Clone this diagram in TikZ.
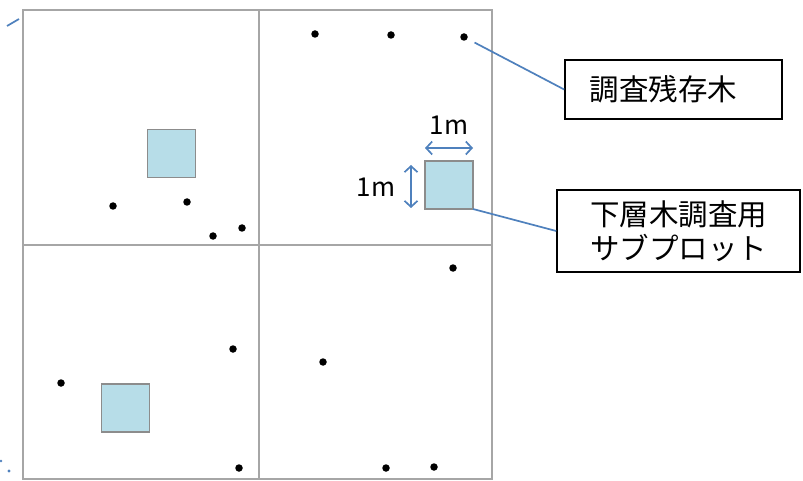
\documentclass[tikz,border=0pt]{standalone}
\usepackage{fontspec}
\setmainfont{Noto Sans CJK JP}
\usetikzlibrary{arrows.meta}
\definecolor{plotfill}{HTML}{B7DDE8}
\definecolor{plotedge}{HTML}{8C8C8C}
\definecolor{gridgray}{HTML}{A6A6A6}
\definecolor{linkblue}{HTML}{4F81BD}
\begin{document}
\begin{tikzpicture}[x=1pt,y=-1pt,
  grid/.style={draw=gridgray, line width=1.9pt},
  plotsq/.style={draw=plotedge, fill=plotfill, line width=1.4pt, minimum width=48pt, minimum height=48pt, inner sep=0pt, outer sep=0pt},
  tree/.style={circle, fill=black, minimum size=7.5pt, inner sep=0pt},
  labelbox/.style={draw=black, line width=1.6pt, font=\fontsize{29.5}{34}\selectfont, align=center, inner sep=0pt},
  link/.style={draw=linkblue, line width=1.7pt},
  dimarrow/.style={link, {Straight Barb[length=6pt,width=13pt]}-{Straight Barb[length=6pt,width=13pt]}},
  dimtext/.style={font=\fontsize{26}{28}\selectfont\addfontfeature{LetterSpace=5}, inner sep=0pt}
]
\useasboundingbox (0,0) rectangle (803,481);
\fill[white] (0,0) rectangle (803,481);

% plot frame and quadrants
\draw[grid] (23,10) rectangle (492,479);
\draw[grid] (259,10) -- (259,479);
\draw[grid] (23,245) -- (492,245);

% subplots
\node[plotsq] (sqA) at (171.5,153.5) {};
\node[plotsq] (sqB) at (125.5,408) {};
\node[plotsq] (sqC) at (449,185) {};

% trees
\node[tree] (t1) at (315,34) {};
\node[tree] (t2) at (391,35) {};
\node[tree] (t3) at (464,37) {};
\node[tree] (t4) at (113,206) {};
\node[tree] (t5) at (187,202) {};
\node[tree] (t6) at (213,236) {};
\node[tree] (t7) at (242,228) {};
\node[tree] (t8) at (61,383) {};
\node[tree] (t9) at (233,349) {};
\node[tree] (t10) at (239,468) {};
\node[tree] (t11) at (453,268) {};
\node[tree] (t12) at (323,362) {};
\node[tree] (t13) at (386,468) {};
\node[tree] (t14) at (434,467) {};

% dimension arrows
\draw[dimarrow] ([yshift=13pt]sqC.north west) -- ([yshift=13pt]sqC.north east);
\draw[dimarrow] ([xshift=-14pt,yshift=-4pt]sqC.north west) -- ([xshift=-14pt,yshift=1pt]sqC.south west);
\node[dimtext] (w1m) at (449,125) {1m};
\node[dimtext] (h1m) at (376,187) {1m};

% label boxes
\node[labelbox, minimum width=217pt, minimum height=59pt] (box1) at (673.5,89.5) {調査残存木\hspace*{20pt}};
\node[labelbox, minimum width=243pt, minimum height=82pt] (box2) at (678.5,231) {下層木調査用\\サブプロット};

% connectors
\draw[link, shorten <=8pt] (t3) -- (box1.west);
\draw[link] (sqC.south east) -- (box2.west);

% fragments at left edge
\coordinate (fa) at (7,26);
\coordinate (fb) at (19,19);
\draw[link] (fa) -- (fb);
\fill[linkblue] (1,461) circle (1.3pt);
\fill[linkblue] (9,471) circle (1.7pt);
\end{tikzpicture}
\end{document}
